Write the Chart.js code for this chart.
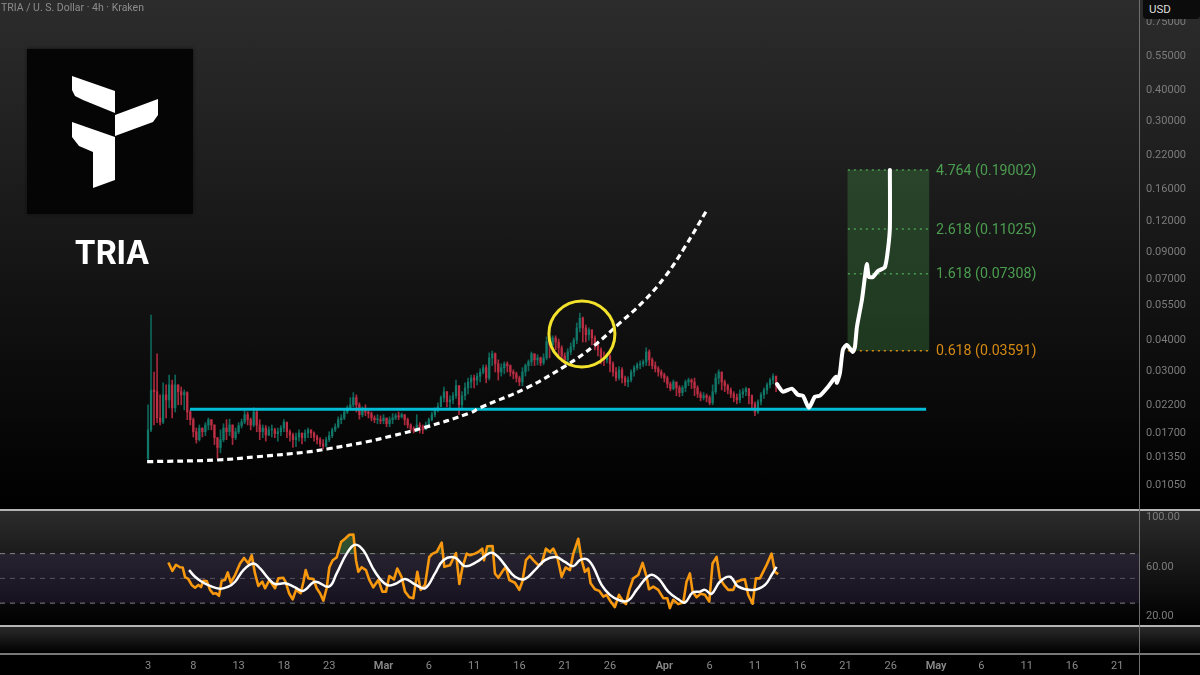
<!DOCTYPE html>
<html>
<head>
<meta charset="utf-8">
<title>TRIA / U. S. Dollar</title>
<script src="https://cdn.jsdelivr.net/npm/chart.js@4"></script>
<style>
    html, body { margin: 0; padding: 0; background: #000; overflow: hidden; }
    #stage { position: relative; width: 1200px; height: 675px; font-family: Roboto, Inter, sans-serif; overflow: hidden; }
    #stage canvas { position: absolute; left: 0; }
    .pane { position: absolute; left: 0; width: 1200px; background: linear-gradient(#2c2c2c, #000); }
    .hline { position: absolute; left: 0; width: 1200px; height: 1.5px; background: #b4b4b4; }
    #vline { position: absolute; left: 1138.5px; top: 0; width: 1.5px; height: 675px; background: #6e6e6e; }
    #title { position: absolute; left: 1px; top: 1px; color: #8c8c8c; font-size: 10.5px; line-height: 14px; white-space: nowrap; }
    #usd { position: absolute; left: 1143px; top: -4px; width: 57px; height: 23px; background: #0c0c0c; border-radius: 4px; color: #dcdcdc; font-size: 11.5px; line-height: 26px; text-indent: 6px; }
    #logo { position: absolute; left: 27px; top: 49px; width: 166px; height: 165px; background: #050505; box-shadow: 0 0 3px #111; }
    #logo svg { position: absolute; left: 0; top: 0; }
    #brand { position: absolute; left: 27px; top: 233px; width: 170px; text-align: center; color: #fff; font-family: Inter, Roboto, sans-serif; font-size: 32px; font-weight: 700; line-height: 40px; }
</style>
</head>
<body>
<div id="stage">
    <div class="pane" style="top:0;height:509px"></div>
    <div class="pane" style="top:510px;height:115px"></div>
    <div class="pane" style="top:626px;height:27px"></div>
    <div class="hline" style="top:509px"></div>
    <div class="hline" style="top:625px"></div>
    <div class="hline" style="top:653px;background:#777"></div>
    <canvas id="price-chart" width="1200" height="510" style="top:0"></canvas>
    <canvas id="rsi-chart" width="1200" height="115" style="top:511px"></canvas>
    <canvas id="time-chart" width="1200" height="21" style="top:654px"></canvas>
    <div id="vline"></div>
    <div id="title">TRIA / U. S. Dollar · 4h · Kraken</div>
    <div id="usd">USD</div>
    <div id="logo">
        <svg width="166" height="165" viewBox="27 49 166 165">
            <polygon fill="#fff" points="72,76 115,91 115,113 83,100 75,96 72,90"/>
            <polygon fill="#fff" points="115,115 158,99 158,115 153,122 115,136"/>
            <polygon fill="#fff" points="72,122 115,137 115,180 93,188 93,152 79,146 72,137"/>
        </svg>
    </div>
    <div id="brand">TRIA</div>
</div>
<script>
// TRIA 4h chart - price pane, RSI pane, time axis
const candleStartDay = 3;
const candleStepDays = 1 / 3;
const firstOpen = 0.0133;

const closes = [
    0.0173, 0.0250, 0.0246, 0.0193, 0.0186, 0.0239, 0.0228, 0.0262, 0.0212, 0.0262,
    0.0246, 0.0239, 0.0244, 0.0204, 0.0190, 0.0170, 0.0158, 0.0176, 0.0170, 0.0181,
    0.0190, 0.0181, 0.0161, 0.0147, 0.0158, 0.0176, 0.0170, 0.0181, 0.0161, 0.0170,
    0.0180, 0.0186, 0.0199, 0.0190, 0.0181, 0.0204, 0.0181, 0.0170, 0.0176, 0.0165,
    0.0173, 0.0173, 0.0167, 0.0170, 0.0176, 0.0186, 0.0170, 0.0165, 0.0158, 0.0162,
    0.0168, 0.0161, 0.0168, 0.0173, 0.0168, 0.0162, 0.0158, 0.0152, 0.0149, 0.0158,
    0.0164, 0.0173, 0.0178, 0.0190, 0.0193, 0.0204, 0.0212, 0.0218, 0.0233, 0.0218,
    0.0199, 0.0208, 0.0204, 0.0201, 0.0193, 0.0190, 0.0190, 0.0188, 0.0193, 0.0183,
    0.0190, 0.0193, 0.0197, 0.0195, 0.0199, 0.0190, 0.0181, 0.0175, 0.0171, 0.0181,
    0.0178, 0.0173, 0.0181, 0.0190, 0.0199, 0.0208, 0.0214, 0.0233, 0.0246, 0.0224,
    0.0228, 0.0237, 0.0260, 0.0218, 0.0237, 0.0255, 0.0269, 0.0279, 0.0274, 0.0284,
    0.0295, 0.0307, 0.0279, 0.0336, 0.0349, 0.0318, 0.0295, 0.0307, 0.0318, 0.0313,
    0.0295, 0.0290, 0.0279, 0.0269, 0.0295, 0.0313, 0.0324, 0.0349, 0.0330, 0.0336,
    0.0321, 0.0336, 0.0390, 0.0379, 0.0404, 0.0389, 0.0369, 0.0342, 0.0330, 0.0355,
    0.0372, 0.0396, 0.0443, 0.0485, 0.0443, 0.0416, 0.0435, 0.0404, 0.0379, 0.0362,
    0.0336, 0.0330, 0.0342, 0.0318, 0.0295, 0.0279, 0.0301, 0.0279, 0.0269, 0.0274,
    0.0295, 0.0307, 0.0315, 0.0318, 0.0324, 0.0355, 0.0330, 0.0313, 0.0304, 0.0295,
    0.0287, 0.0279, 0.0264, 0.0253, 0.0269, 0.0255, 0.0244, 0.0255, 0.0269, 0.0274,
    0.0269, 0.0255, 0.0241, 0.0233, 0.0237, 0.0233, 0.0222, 0.0246, 0.0279, 0.0295,
    0.0269, 0.0260, 0.0250, 0.0241, 0.0233, 0.0228, 0.0241, 0.0246, 0.0253, 0.0237,
    0.0220, 0.0204, 0.0224, 0.0239, 0.0250, 0.0262, 0.0274, 0.0284, 0.0260,
];
const highs = [
    0.0218, 0.0499, 0.0295, 0.0349, 0.0239, 0.0267, 0.0262, 0.0287, 0.0274, 0.0287,
    0.0262, 0.0257, 0.0250, 0.0246, 0.0208, 0.0193, 0.0176, 0.0181, 0.0176, 0.0185,
    0.0193, 0.0190, 0.0181, 0.0161, 0.0173, 0.0183, 0.0190, 0.0191, 0.0181, 0.0176,
    0.0185, 0.0191, 0.0206, 0.0204, 0.0193, 0.0212, 0.0210, 0.0190, 0.0181, 0.0180,
    0.0178, 0.0181, 0.0176, 0.0176, 0.0180, 0.0190, 0.0181, 0.0173, 0.0168, 0.0168,
    0.0173, 0.0168, 0.0173, 0.0176, 0.0173, 0.0170, 0.0165, 0.0161, 0.0158, 0.0162,
    0.0170, 0.0176, 0.0183, 0.0195, 0.0199, 0.0208, 0.0216, 0.0233, 0.0244, 0.0239,
    0.0222, 0.0214, 0.0218, 0.0210, 0.0204, 0.0197, 0.0199, 0.0197, 0.0199, 0.0193,
    0.0195, 0.0201, 0.0201, 0.0204, 0.0202, 0.0199, 0.0193, 0.0183, 0.0178, 0.0199,
    0.0185, 0.0181, 0.0186, 0.0193, 0.0204, 0.0212, 0.0222, 0.0237, 0.0257, 0.0246,
    0.0237, 0.0244, 0.0274, 0.0260, 0.0246, 0.0267, 0.0279, 0.0287, 0.0287, 0.0292,
    0.0304, 0.0315, 0.0315, 0.0352, 0.0358, 0.0352, 0.0330, 0.0318, 0.0324, 0.0324,
    0.0315, 0.0301, 0.0295, 0.0284, 0.0307, 0.0318, 0.0330, 0.0355, 0.0349, 0.0346,
    0.0339, 0.0349, 0.0408, 0.0389, 0.0412, 0.0412, 0.0400, 0.0376, 0.0352, 0.0366,
    0.0386, 0.0404, 0.0464, 0.0508, 0.0490, 0.0455, 0.0443, 0.0435, 0.0412, 0.0389,
    0.0369, 0.0355, 0.0349, 0.0346, 0.0324, 0.0307, 0.0310, 0.0307, 0.0284, 0.0282,
    0.0301, 0.0313, 0.0321, 0.0327, 0.0330, 0.0369, 0.0362, 0.0336, 0.0324, 0.0310,
    0.0301, 0.0292, 0.0284, 0.0269, 0.0274, 0.0269, 0.0260, 0.0260, 0.0274, 0.0279,
    0.0277, 0.0279, 0.0260, 0.0246, 0.0244, 0.0241, 0.0237, 0.0262, 0.0290, 0.0301,
    0.0295, 0.0274, 0.0264, 0.0255, 0.0246, 0.0241, 0.0250, 0.0253, 0.0257, 0.0253,
    0.0239, 0.0224, 0.0228, 0.0244, 0.0255, 0.0267, 0.0279, 0.0290, 0.0284,
];
const lows = [
    0.0131, 0.0170, 0.0181, 0.0185, 0.0181, 0.0183, 0.0193, 0.0212, 0.0193, 0.0204,
    0.0218, 0.0218, 0.0208, 0.0190, 0.0181, 0.0162, 0.0153, 0.0156, 0.0162, 0.0164,
    0.0173, 0.0173, 0.0151, 0.0133, 0.0140, 0.0155, 0.0158, 0.0164, 0.0151, 0.0158,
    0.0167, 0.0176, 0.0183, 0.0181, 0.0173, 0.0178, 0.0170, 0.0158, 0.0161, 0.0156,
    0.0164, 0.0162, 0.0161, 0.0156, 0.0164, 0.0170, 0.0161, 0.0156, 0.0147, 0.0148,
    0.0156, 0.0152, 0.0156, 0.0161, 0.0161, 0.0156, 0.0152, 0.0148, 0.0145, 0.0148,
    0.0155, 0.0161, 0.0170, 0.0176, 0.0183, 0.0190, 0.0201, 0.0208, 0.0214, 0.0204,
    0.0191, 0.0195, 0.0197, 0.0193, 0.0188, 0.0185, 0.0183, 0.0183, 0.0183, 0.0178,
    0.0178, 0.0183, 0.0190, 0.0190, 0.0193, 0.0181, 0.0176, 0.0171, 0.0168, 0.0170,
    0.0168, 0.0167, 0.0175, 0.0178, 0.0188, 0.0195, 0.0204, 0.0216, 0.0224, 0.0214,
    0.0212, 0.0220, 0.0231, 0.0199, 0.0212, 0.0228, 0.0241, 0.0255, 0.0255, 0.0262,
    0.0269, 0.0290, 0.0267, 0.0274, 0.0313, 0.0295, 0.0274, 0.0284, 0.0290, 0.0295,
    0.0284, 0.0277, 0.0269, 0.0260, 0.0260, 0.0284, 0.0298, 0.0313, 0.0313, 0.0315,
    0.0313, 0.0315, 0.0330, 0.0336, 0.0355, 0.0362, 0.0342, 0.0324, 0.0318, 0.0324,
    0.0346, 0.0362, 0.0383, 0.0427, 0.0389, 0.0389, 0.0396, 0.0379, 0.0362, 0.0342,
    0.0318, 0.0313, 0.0321, 0.0295, 0.0284, 0.0272, 0.0274, 0.0267, 0.0260, 0.0257,
    0.0269, 0.0284, 0.0301, 0.0304, 0.0310, 0.0313, 0.0313, 0.0304, 0.0295, 0.0284,
    0.0279, 0.0269, 0.0255, 0.0248, 0.0250, 0.0237, 0.0235, 0.0237, 0.0246, 0.0260,
    0.0253, 0.0237, 0.0233, 0.0226, 0.0228, 0.0224, 0.0218, 0.0218, 0.0241, 0.0264,
    0.0250, 0.0246, 0.0241, 0.0233, 0.0224, 0.0220, 0.0222, 0.0233, 0.0237, 0.0220,
    0.0208, 0.0197, 0.0201, 0.0218, 0.0231, 0.0241, 0.0255, 0.0264, 0.0246,
];

const priceTicks = [0.75, 0.55, 0.40, 0.30, 0.22, 0.16, 0.12, 0.09, 0.07, 0.055, 0.04, 0.03, 0.022, 0.017, 0.0135, 0.0105];

const supportLevel = 0.0209;
const supportDays = [7.64, 88.9];

const curveDays = [2.9, 10.62, 15.03, 20.55, 22.76, 27.17, 30.04, 33.35, 38.54, 39.64, 44.83, 49.25, 52.12, 55.1, 57.64, 60.06, 62.27, 64.7];
const curvePrices = [0.0129, 0.0131, 0.0135, 0.0141, 0.0145, 0.0155, 0.0164, 0.0176, 0.0202, 0.0212, 0.0255, 0.0315, 0.0373, 0.0464, 0.0563, 0.0709, 0.0935, 0.1315];

const pathDays = [72.43, 73.09, 74.08, 74.74, 75.3, 75.96, 76.62, 77.17, 78.06, 78.94, 79.05, 79.38, 79.71, 80.15, 80.81, 81.04, 81.26, 81.81, 82.14, 82.36, 82.58, 83.03, 83.58, 84.35, 84.68, 84.9, 84.9];
const pathPrices = [0.0264, 0.0246, 0.0253, 0.0239, 0.0237, 0.0212, 0.0235, 0.0237, 0.0257, 0.0282, 0.0267, 0.0292, 0.0362, 0.0379, 0.0355, 0.0372, 0.0447, 0.0573, 0.0709, 0.0799, 0.0709, 0.0709, 0.0749, 0.0777, 0.0909, 0.1124, 0.19];

const circleDay = 50.9;
const circlePrice = 0.0419;

const fibRatios = ["0.618", "1.618", "2.618", "4.764"];
const fibPrices = [0.03591, 0.07308, 0.11025, 0.19002];
const fibDays = [80.26, 89.2];
const fibLabelDay = 89.98;

const rsiDays = [
    5.25, 5.69, 6.09, 6.53, 6.83, 7.09, 7.45, 7.82, 8.19, 8.56, 8.85, 9.11, 9.48, 9.85, 10.21, 10.51, 10.84, 11.13, 11.5, 11.8,
    12.13, 12.61, 13.16, 13.6, 14.08, 14.45, 14.81, 15.18, 15.62, 15.92, 16.4, 17.02, 17.39, 17.94, 18.2, 18.57, 18.97, 19.34, 19.85, 20.15,
    20.41, 20.7, 21.25, 21.62, 21.99, 22.36, 22.72, 23.02, 23.39, 23.83, 24.31, 24.75, 25.22, 25.67, 25.96, 26.22, 26.59, 27.06, 27.43, 27.87,
    28.43, 28.87, 29.27, 29.64, 30.15, 30.52, 31, 31.37, 31.85, 32.29, 32.73, 33.1, 33.58, 34.05, 34.42, 34.86, 35.42, 35.71, 36.34, 37,
    37.37, 37.73, 38.18, 38.54, 39.09, 39.46, 39.9, 40.09, 40.45, 41.04, 41.3, 41.67, 42.22, 42.51, 42.88, 43.51, 43.99, 44.32, 44.72, 45.16,
    45.53, 46.08, 46.45, 46.93, 47.37, 47.74, 48.18, 48.66, 49.1, 49.58, 49.95, 50.5, 50.87, 51.23, 51.6, 51.86, 52.34, 52.82, 53.26, 53.62,
    54.07, 54.54, 54.99, 55.46, 55.76, 56.13, 56.57, 57.12, 57.6, 58.04, 58.3, 58.78, 59.33, 59.88, 60.32, 60.61, 60.98, 61.53, 62.09, 62.45,
    62.82, 63.12, 63.56, 64, 64.48, 64.96, 65.32, 65.77, 66.13, 66.58, 67.05, 67.61, 67.97, 68.52, 68.89, 69.26, 69.74, 70.11, 70.55, 71.28,
    71.84, 72.2, 72.57,
];
const rsiValues = [
    62.8, 56, 61, 59, 58.8, 51, 49.5, 44.7, 42.5, 44.7, 43, 48, 47.9, 40.7, 37.5, 38, 35.9, 48, 48.7, 54.8,
    46.5, 52.7, 62, 66.5, 62, 68.7, 54, 43.9, 47.3, 42, 48.7, 42, 50, 50.5, 47, 38, 33, 40.7, 38, 47,
    56.7, 50, 49.5, 42, 38, 32, 42, 59, 64.7, 67, 79.3, 82, 85.2, 85.5, 64.7, 55.3, 59, 56.7, 48.7, 42.8,
    48.7, 39.3, 39.3, 51.9, 49.2, 58, 51, 39.3, 34.8, 34, 55.3, 40.7, 44.7, 67.3, 70, 71.3, 78.8, 59.3, 60.7, 70.5,
    45.5, 59.3, 70, 68.7, 70, 71.3, 74, 64.7, 75.9, 76.1, 54, 50.5, 56.7, 59.3, 48.7, 46.5, 40.7, 47.3, 64.7, 68.1,
    64.7, 60.7, 62, 74, 71.3, 74, 67.3, 51.3, 58.8, 56.7, 70, 82, 64.7, 55.3, 58, 46, 41.2, 39.9, 35.3, 36.7,
    31.3, 26.8, 36.7, 31.3, 29.2, 40.7, 50, 52.7, 62.5, 51.3, 41.2, 43.3, 40.7, 34, 34, 26, 32.7, 29.2, 30.5, 47.3,
    54, 39.3, 34.8, 37.5, 36.7, 31.3, 62, 67.3, 50, 44.7, 40.7, 40.7, 47.3, 48.7, 49.2, 36.7, 29.5, 50, 50, 60.7,
    70, 55.3, 53.5,
];
const rsiMaDays = [
    7.53, 8.19, 8.93, 9.85, 10.95, 11.87, 12.61, 13.53, 14.63, 15.37, 16.28, 17.02, 18.12, 19.23, 20.15, 21.44, 22.98, 23.83, 24.93, 25.85,
    26.77, 28.06, 29.35, 30.27, 31.37, 32.47, 33.58, 34.68, 35.6, 36.89, 37.99, 39.28, 40.2, 40.93, 41.67, 42.4, 43.51, 44.61, 45.71, 46.82,
    48.03, 49.03, 49.95, 50.68, 51.42, 52.15, 53.07, 53.99, 55.1, 56.02, 56.94, 58.41, 59.33, 60.43, 61.53, 62.27, 63.12, 63.93, 64.48, 65.21,
    66.13, 67.24, 68.16, 69.81, 71.1, 71.84, 72.39,
];
const rsiMaValues = [
    56.7, 51.3, 47.3, 43.9, 41.7, 43.3, 47.3, 56.7, 62, 58, 50, 45.5, 46, 42.8, 39.9, 47.3, 43.3, 54, 70, 77.2,
    72.7, 55.3, 44.7, 45.5, 49.5, 45.2, 42, 54, 64.7, 66.8, 59.9, 63.3, 68.1, 70.8, 67.3, 60.7, 51.3, 49.5, 56.7, 64.7,
    67.3, 63.3, 59.9, 64.7, 65.5, 59.3, 44.7, 36.7, 32.1, 32.1, 40.7, 52.7, 50, 39.3, 33.2, 30.5, 38.5, 39.3, 40.7, 37.5,
    47.3, 51.3, 43.3, 40.7, 44.7, 52.7, 59.3,
];
const rsiBand = [30, 70];
const rsiMid = 50;
const rsiTicks = [100, 60, 20];

const timeDays = [3, 8, 13, 18, 23, 29, 34, 39, 44, 49, 54, 60, 65, 70, 75, 80, 85, 90, 95, 100, 105, 110];
const timeLabels = ["3", "8", "13", "18", "23", "Mar", "6", "11", "16", "21", "26", "Apr", "6", "11", "16", "21", "26", "May", "6", "11", "16", "21"];

const FONT = "Roboto, Inter, sans-serif";
const GREEN = "#12796a";
const GREEN_WICK = "#0f6558";
const RED = "#bd2f44";
const RED_WICK = "#a82a3d";

// x range that fills the pane left of the price axis
const xRange = { min: -13.34, max: 112.4 };

const candleDay = (i) => candleStartDay + i * candleStepDays;
const zip = (xs, ys) => xs.map((x, i) => ({ x, y: ys[i] }));
const flat = (xs, y) => xs.map((x) => ({ x, y }));

function xScale(extra = {}) {
    return { type: "linear", display: false, offset: false, ...xRange, ...extra };
}

function rightAxis(ticks, decimals, labelOffset, extra = {}) {
    return {
        position: "right",
        afterFit: (axis) => {
            // keep the plot full height, labels may hang over the pane edge
            axis.width = 61;
            axis.paddingTop = 0;
            axis.paddingBottom = 0;
        },
        afterBuildTicks: (axis) => { axis.ticks = ticks.map((value) => ({ value })); },
        border: { display: false },
        grid: { display: false, drawTicks: false },
        ticks: {
            autoSkip: false,
            padding: 7,
            labelOffset,
            color: "#7c7c7c",
            font: { family: FONT, size: 11 },
            callback: (v) => Number(v).toFixed(decimals),
        },
        ...extra,
    };
}

const baseOptions = {
    responsive: false,
    animation: false,
    events: [],
    layout: { autoPadding: false, padding: 0 },
    plugins: { legend: { display: false }, tooltip: { enabled: false } },
};

const opens = closes.map((c, i) => (i === 0 ? firstOpen : closes[i - 1]));
const isUp = closes.map((c, i) => c >= opens[i]);

// writes the fib level text next to each dotted line
const fibText = {
    id: "fibText",
    afterDatasetsDraw(chart) {
        const { ctx, scales } = chart;
        ctx.save();
        ctx.font = `14.2px ${FONT}`;
        ctx.textBaseline = "middle";
        fibPrices.forEach((p, i) => {
            ctx.fillStyle = i === 0 ? "#d68a14" : "#4b9e50";
            ctx.fillText(`${fibRatios[i]} (${p.toFixed(5)})`, scales.x.getPixelForValue(fibLabelDay), scales.y.getPixelForValue(p) + 1);
        });
        ctx.restore();
    },
};

new Chart(document.getElementById("price-chart"), {
    data: {
        datasets: [
            {
                type: "bar",
                order: 10,
                data: [{ x: (fibDays[0] + fibDays[1]) / 2, y: [fibPrices[0], fibPrices[3]] }],
                backgroundColor: "rgba(76,175,80,0.27)",
                barThickness: 81,
                grouped: false,
            },
            {
                type: "bar",
                order: 9,
                data: closes.map((c, i) => ({ x: candleDay(i), y: [lows[i], highs[i]] })),
                backgroundColor: closes.map((c, i) => (isUp[i] ? GREEN_WICK : RED_WICK)),
                barThickness: 1,
                grouped: false,
            },
            {
                type: "bar",
                order: 8,
                data: closes.map((c, i) => ({ x: candleDay(i), y: [opens[i], c] })),
                backgroundColor: closes.map((c, i) => (isUp[i] ? GREEN : RED)),
                barThickness: 1.6,
                minBarLength: 1,
                grouped: false,
            },
            ...fibPrices.map((p, i) => ({
                type: "line",
                order: 7,
                data: flat(fibDays, p),
                borderColor: i === 0 ? "#d68a14" : "#4b9e50",
                borderWidth: 1.5,
                borderDash: [2, 4],
                pointRadius: 0,
            })),
            {
                type: "line",
                order: 4,
                data: flat(supportDays, supportLevel),
                borderColor: "#00bcd4",
                borderWidth: 3,
                pointRadius: 0,
            },
            {
                type: "line",
                order: 3,
                data: zip(curveDays, curvePrices),
                borderColor: "#ffffff",
                borderWidth: 3.2,
                borderDash: [6, 4],
                borderCapStyle: "butt",
                tension: 0.4,
                pointRadius: 0,
            },
            {
                type: "line",
                order: 2,
                data: zip(pathDays, pathPrices),
                borderColor: "#ffffff",
                borderWidth: 4,
                borderCapStyle: "round",
                borderJoinStyle: "round",
                tension: 0.2,
                pointRadius: 0,
            },
            {
                type: "line",
                order: 2,
                data: [{ x: circleDay, y: circlePrice }],
                showLine: false,
                pointRadius: 33,
                pointBorderWidth: 3,
                pointBorderColor: "#f3e22c",
                pointBackgroundColor: "rgba(0,0,0,0)",
            },
        ],
    },
    options: {
        ...baseOptions,
        scales: {
            x: xScale(),
            y: rightAxis(priceTicks, 5, 1, { type: "logarithmic", min: 0.00826, max: 0.9125 }),
        },
    },
    plugins: [fibText],
});

new Chart(document.getElementById("rsi-chart"), {
    type: "line",
    data: {
        datasets: [
            {
                data: flat([xRange.min, xRange.max], rsiBand[1]),
                borderColor: "rgba(165,165,165,0.75)",
                borderWidth: 1,
                borderDash: [5, 5],
                pointRadius: 0,
                order: 5,
            },
            {
                data: flat([xRange.min, xRange.max], rsiBand[0]),
                borderColor: "rgba(165,165,165,0.75)",
                borderWidth: 1,
                borderDash: [5, 5],
                backgroundColor: "rgba(126,87,194,0.12)",
                fill: "-1",
                pointRadius: 0,
                order: 5,
            },
            {
                data: flat([xRange.min, xRange.max], rsiMid),
                borderColor: "rgba(165,165,165,0.45)",
                borderWidth: 1,
                borderDash: [5, 5],
                pointRadius: 0,
                order: 5,
            },
            {
                data: zip(rsiDays, rsiValues),
                borderColor: "#f7980f",
                borderWidth: 2.6,
                tension: 0,
                borderJoinStyle: "round",
                pointRadius: 0,
                fill: { target: { value: rsiBand[1] }, above: "rgba(76,175,80,0.35)", below: "rgba(0,0,0,0)" },
                order: 2,
            },
            {
                data: zip(rsiMaDays, rsiMaValues),
                borderColor: "#ffffff",
                borderWidth: 2.5,
                tension: 0.4,
                pointRadius: 0,
                order: 1,
            },
        ],
    },
    options: {
        ...baseOptions,
        scales: {
            x: xScale(),
            y: rightAxis(rsiTicks, 2, 1, { min: 11.52, max: 104.44 }),
        },
    },
});

new Chart(document.getElementById("time-chart"), {
    type: "line",
    data: { datasets: [{ data: [] }] },
    options: {
        ...baseOptions,
        layout: { autoPadding: false, padding: { right: 61 } },
        scales: {
            x: xScale({
                display: true,
                position: "bottom",
                afterFit: (axis) => { axis.height = 21; },
                afterBuildTicks: (axis) => { axis.ticks = timeDays.map((value) => ({ value })); },
                border: { display: false },
                grid: { display: false, drawTicks: false },
                ticks: {
                    autoSkip: false,
                    maxRotation: 0,
                    padding: 6,
                    color: "#8a8a8a",
                    font: (ctx) => ({
                        family: FONT,
                        size: 11,
                        weight: ctx.index !== undefined && isNaN(Number(timeLabels[ctx.index])) ? "600" : "400",
                    }),
                    callback: (v, i) => timeLabels[i],
                },
            }),
            y: { display: false },
        },
    },
});
</script>
</body>
</html>
